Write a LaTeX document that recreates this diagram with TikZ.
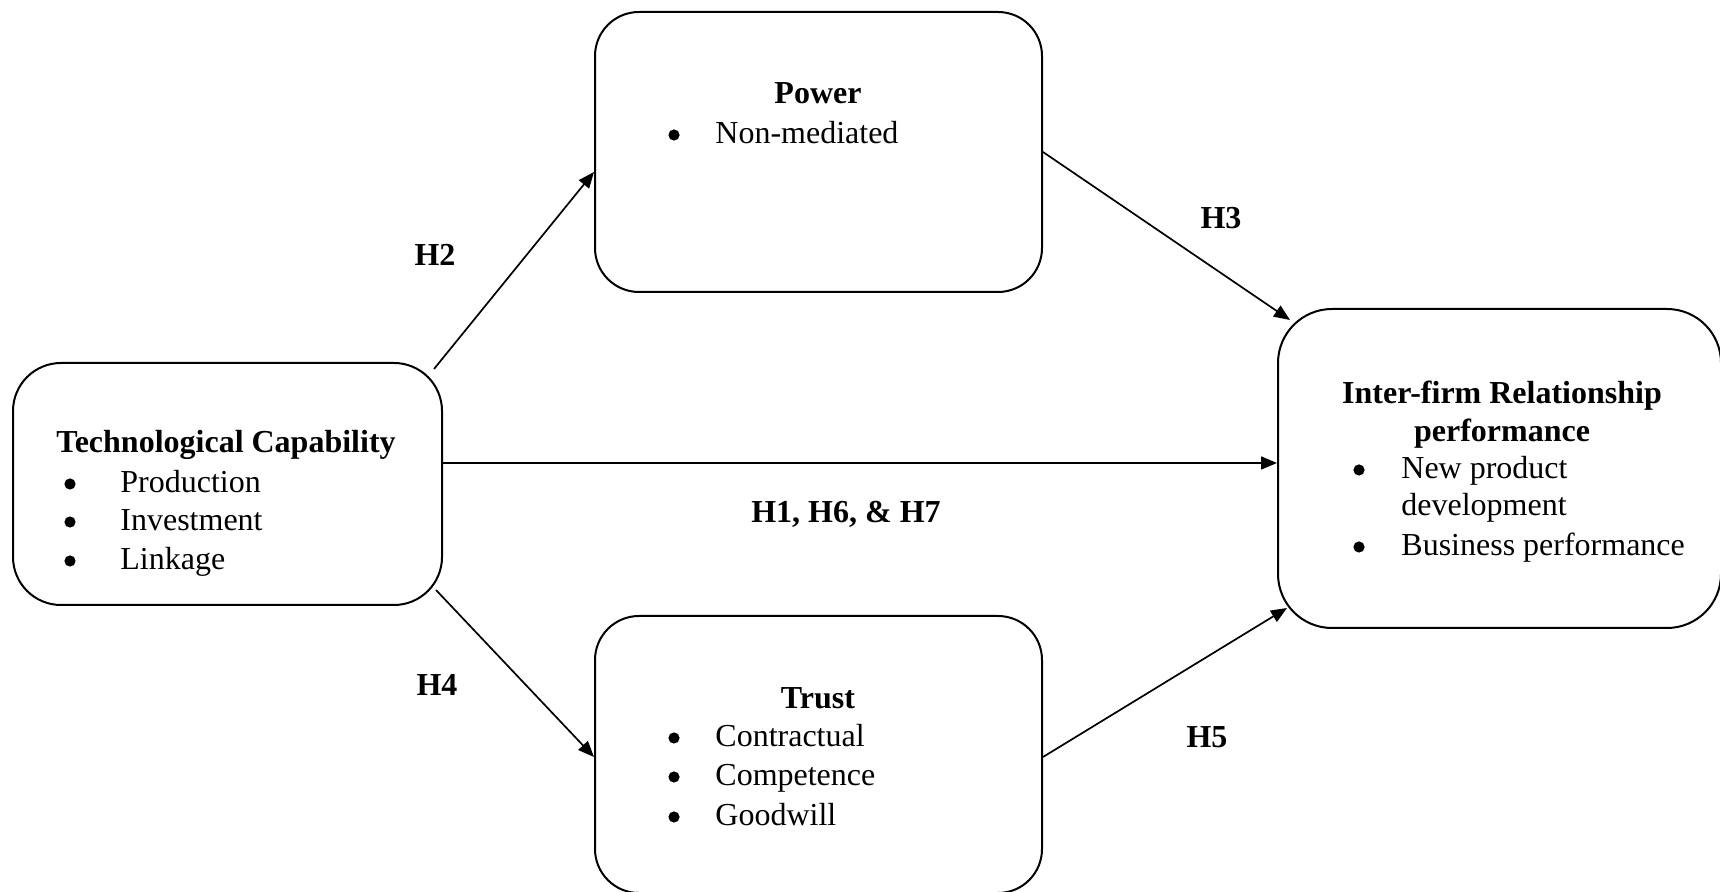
\documentclass[tikz,border=0pt]{standalone}
\usepackage{fontspec}
\setmainfont{Liberation Serif}
\usetikzlibrary{arrows.meta}
\begin{document}
\begin{tikzpicture}[x=0.5pt,y=-0.5pt,
  box/.style={draw,line width=1pt,rectangle,inner sep=0pt},
  txt/.style={inner sep=0pt,font=\fontsize{16}{19}\selectfont},
  ttl/.style={txt,anchor=base,font=\fontsize{16}{19}\selectfont\bfseries},
  itm/.style={txt,anchor=base west},
  dot/.style={circle,fill=black,inner sep=0pt,minimum size=5.6pt},
  hyp/.style={txt,anchor=base,font=\fontsize{16}{19}\selectfont\bfseries},
  arr/.style={line width=0.85pt,-{Triangle[length=8pt,width=6.5pt]}}]
\useasboundingbox (0,0) rectangle (1720,892);
% boxes
\node[box,rounded corners=24pt,minimum width=214.5pt,minimum height=121pt] (tech) at (227.5,484) {};
\node[box,rounded corners=22pt,minimum width=223.5pt,minimum height=140pt] (power) at (818.5,152) {};
\node[box,rounded corners=22pt,minimum width=223.5pt,minimum height=138.5pt] (trust) at (818.5,754.5) {};
\node[box,rounded corners=27pt,minimum width=221.5pt,minimum height=159.5pt] (irp) at (1499.5,468.5) {};
% Technological Capability
\node[ttl] (techt) at (226,453) {Technological Capability};
\node[dot] (tb1) at (70,484) {};
\node[dot] (tb2) at (70,522) {};
\node[dot] (tb3) at (70,561) {};
\node[itm] (ti1) at (120,493) {Production};
\node[itm] (ti2) at (120,531) {Investment};
\node[itm] (ti3) at (120,570) {Linkage};
% Power
\node[ttl] (powt) at (818,104) {Power};
\node[dot] (pb1) at (674,135) {};
\node[itm] (pi1) at (715,144) {Non-mediated};
% Trust
\node[ttl] (trt) at (818,709) {Trust};
\node[dot] (rb1) at (674,738) {};
\node[dot] (rb2) at (674,777) {};
\node[dot] (rb3) at (674,817) {};
\node[itm] (ri1) at (715,747) {Contractual};
\node[itm] (ri2) at (715,786) {Competence};
\node[itm] (ri3) at (715,826) {Goodwill};
% Inter-firm
\node[ttl] (irt1) at (1502,404) {Inter-firm Relationship};
\node[ttl] (irt2) at (1502,442) {performance};
\node[dot] (ib1) at (1359,470) {};
\node[dot] (ib2) at (1359,547) {};
\node[itm] (ii1) at (1401,479) {New product};
\node[itm] (ii2) at (1401,516) {development};
\node[itm] (ii3) at (1401,556) {Business performance};
% arrows
\draw[arr] ([xshift=-4.5pt,yshift=-3.5pt]tech.north east) -- ([yshift=-10pt]power.west);
\draw[arr] (power.east) -- ([xshift=6.5pt,yshift=-6pt]irp.north west);
\draw[arr] ([yshift=10.5pt]tech.east) -- ([yshift=2.75pt]irp.west);
\draw[arr] ([xshift=-3.5pt,yshift=8pt]tech.south east) -- ([yshift=-1.25pt]trust.west);
\draw[arr] ([yshift=-1.25pt]trust.east) -- ([xshift=5pt,yshift=10.5pt]irp.south west);
% labels
\node[hyp] (h2) at (435,266) {H2};
\node[hyp] (h3) at (1221,229) {H3};
\node[hyp] (h1) at (846,523) {H1, H6, \& H7};
\node[hyp] (h4) at (437,696) {H4};
\node[hyp] (h5) at (1207,748) {H5};
\end{tikzpicture}
\end{document}
